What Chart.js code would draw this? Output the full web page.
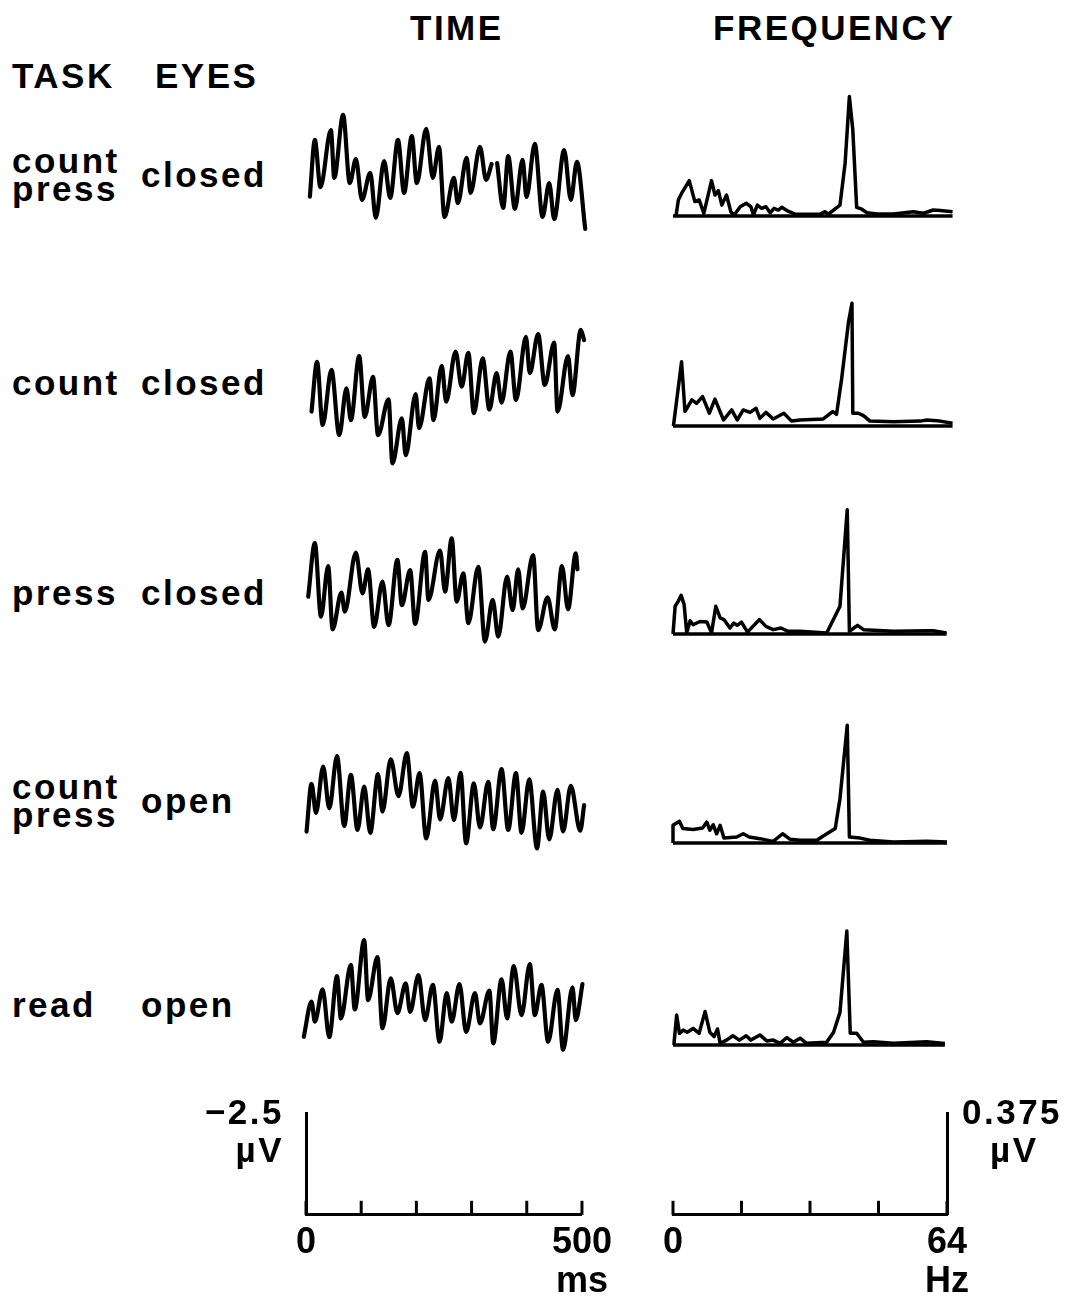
<!DOCTYPE html>
<html>
<head>
<meta charset="utf-8">
<script src="https://cdn.jsdelivr.net/npm/chart.js@4/dist/chart.umd.min.js"></script>
<style>
body{margin:0;background:#fff;width:1078px;height:1304px;position:relative;overflow:hidden;
  font-family:"Liberation Sans",Arial,sans-serif;color:#000}
.t{position:absolute;font-size:35px;line-height:35px;font-weight:bold;letter-spacing:2.5px;white-space:nowrap}
canvas{position:absolute}
</style>
</head>
<body>
<script>
// labels
const tasks = [['count', 'press'], ['count'], ['press'], ['count', 'press'], ['read']]
const eyes = ['closed', 'closed', 'closed', 'open', 'open']

// time traces: [ms, µV]  (negative is drawn up)
const waveCountPressClosed = [[7,0.48],[16,-0.91],[26,0.25],[45,-1.15],[51,0.02],[67,-1.52],[79,0.15],[90,-0.44],[101,0.56],[116,-0.10],[126,1.00],[141,-0.39],[152,0.51],[166,-0.91],[177,0.39],[191,-1.00],[200,0.15],[217,-1.18],[229,0.02],[240,-0.74],[250,0.98],[267,0.02],[274,0.64],[290,-0.47],[297,0.39],[314,-0.74],[325,0.07],[335,-0.32],[340,null],[345,-0.34],[356,0.76],[365,-0.51],[377,0.78],[391,-0.42],[398,0.49],[413,-0.81],[427,0.98],[439,0.15],[448,1.03],[466,-0.66],[478,0.56],[489,-0.37],[504,1.27]]
const waveCountClosed = [[10,0.65],[20,-0.57],[30,0.98],[46,-0.37],[60,1.23],[73,0.08],[81,0.86],[96,-0.71],[106,0.78],[121,-0.20],[130,1.23],[149,0.35],[156,1.92],[173,0.82],[180,1.72],[198,0.22],[204,1.06],[223,-0.16],[230,0.86],[245,-0.47],[253,0.41],[270,-0.82],[281,0.04],[293,-0.79],[303,0.69],[319,-0.65],[331,0.60],[344,-0.29],[353,0.43],[369,-0.82],[379,0.37],[397,-1.18],[404,-0.29],[419,-1.25],[431,0.00],[448,-1.04],[454,0.65],[473,-0.71],[481,0.25],[496,-1.35],[502,-1.10]]
const wavePressClosed = [[4,0.04],[16,-1.27],[27,0.53],[40,-0.71],[48,0.84],[64,-0.06],[70,0.41],[90,-1.04],[102,-0.04],[112,-0.63],[123,0.78],[138,-0.33],[149,0.74],[165,-0.86],[173,0.25],[188,-0.61],[197,0.71],[215,-1.06],[221,0.12],[242,-1.09],[251,-0.08],[263,-1.39],[272,0.16],[284,-0.53],[293,0.69],[311,-0.69],[323,1.14],[337,0.12],[347,1.02],[363,-0.45],[373,0.37],[383,-0.63],[391,0.33],[410,-0.98],[419,0.86],[436,0.06],[449,0.84],[462,-0.71],[473,0.35],[487,-1.02],[490,-0.63]]
const waveCountPressOpen = [[1,0.70],[10,-0.47],[18,0.24],[31,-0.89],[42,0.13],[56,-1.15],[69,0.56],[81,-0.69],[93,0.66],[105,-0.40],[116,0.73],[130,-0.71],[138,0.21],[153,-1.07],[167,-0.17],[182,-1.22],[193,0.09],[205,-0.73],[217,0.87],[233,-0.55],[242,0.40],[257,-0.61],[267,0.42],[279,-0.74],[289,0.99],[303,-0.48],[314,0.60],[329,-0.52],[338,0.64],[353,-0.83],[365,0.66],[379,-0.73],[389,0.73],[403,-0.58],[417,1.11],[428,-0.28],[439,0.89],[454,-0.32],[464,0.70],[478,-0.42],[495,0.68],[502,0.05]]
const waveReadOpen = [[-4,0.73],[10,-0.13],[16,0.36],[30,-0.43],[42,0.74],[56,-0.76],[63,0.28],[81,-1.03],[88,0.06],[105,-1.64],[112,-0.17],[129,-1.22],[138,0.52],[153,-0.70],[165,0.15],[180,-0.58],[188,0.12],[203,-0.78],[215,0.32],[229,-0.54],[241,0.85],[254,-0.34],[263,0.36],[277,-0.56],[289,0.61],[305,-0.34],[314,0.40],[331,-0.40],[338,0.89],[353,-0.68],[363,0.28],[375,-1.00],[389,0.20],[404,-1.05],[413,0.20],[425,-0.54],[437,0.85],[454,-0.42],[464,1.05],[481,-0.48],[487,0.32],[499,-0.56]]

// spectra: [Hz, µV]
const specCountPressClosed = [[0.7,0],[1.25,0.059],[2.0,0.083],[3.8,0.130],[5.1,0.053],[6.1,0.059],[7.2,0.010],[9.0,0.130],[9.8,0.077],[10.6,0.093],[11.4,0.040],[12.5,0.077],[13.5,0.016],[14.3,0.004],[15.7,0.034],[17.1,0.047],[18.2,0.034],[18.8,0.004],[19.7,0.040],[20.7,0.028],[21.7,0.034],[22.7,0.012],[23.6,0.028],[24.6,0.022],[25.4,0.032],[26.6,0.020],[28.5,0.007],[34.3,0.006],[35.5,0.016],[36.3,0.007],[37.5,0.022],[39.0,0.040],[40.2,0.194],[41.2,0.439],[42.0,0.316],[42.9,0.032],[44.1,0.025],[45.3,0.012],[47.6,0.007],[51.5,0.007],[56.1,0.016],[58.5,0.010],[60.8,0.022],[62.4,0.020],[65.3,0.016]]
const specCountClosed = [[0.1,0],[2.0,0.236],[2.8,0.053],[4.4,0.096],[5.5,0.083],[6.9,0.108],[8.5,0.047],[9.8,0.099],[11.8,0.022],[13.7,0.059],[15.0,0.022],[16.4,0.059],[18.0,0.050],[19.4,0.065],[20.3,0.028],[21.7,0.050],[23.4,0.026],[25.9,0.047],[27.7,0.018],[29.7,0.022],[35.1,0.026],[37.3,0.053],[38.2,0.043],[39.4,0.175],[41.0,0.383],[41.8,0.451],[42.0,0.047],[43.3,0.047],[44.5,0.038],[46.0,0.018],[51.5,0.016],[57.7,0.018],[59.3,0.022],[62.4,0.018],[65.3,0.010]]
const specPressClosed = [[0,0],[0.5,0.102],[1.2,0.120],[1.9,0.142],[2.6,0.108],[3.2,0.004],[4.0,0.049],[4.7,0.034],[6.3,0.046],[7.9,0.044],[9.0,0.004],[10.0,0.102],[11.0,0.059],[11.9,0.053],[13.3,0.022],[14.2,0.040],[15.0,0.032],[16.0,0.044],[17.4,0.007],[20.2,0.053],[21.7,0.028],[23.4,0.016],[25.2,0.022],[26.9,0.010],[29.7,0.010],[35.9,0.004],[39.0,0.102],[40.7,0.457],[41.2,0.010],[43.1,0.032],[44.5,0.016],[51.5,0.010],[59.3,0.012],[60.8,0.012],[63.9,0.004]]
const specCountPressOpen = [[0,0],[0,0.065],[1.5,0.080],[2.3,0.053],[4.7,0.050],[6.9,0.055],[7.9,0.077],[8.6,0.047],[9.4,0.067],[10.2,0.034],[11.0,0.065],[11.9,0.018],[14.9,0.022],[16.4,0.034],[17.8,0.022],[20.3,0.016],[23.4,0.006],[25.6,0.034],[27.3,0.014],[29.7,0.010],[33.6,0.010],[35.1,0.026],[37.9,0.053],[39.0,0.163],[40.7,0.433],[41.2,0.022],[43.7,0.018],[46.0,0.010],[51.5,0.004],[59.3,0.006],[64.0,0.004]]
const specReadOpen = [[0.2,0],[0.85,0.110],[1.5,0.043],[2.4,0.055],[3.3,0.047],[4.7,0.061],[6.1,0.043],[7.5,0.123],[8.6,0.047],[9.6,0.031],[10.4,0.059],[11.0,0.006],[12.5,0.018],[14.0,0.034],[15.5,0.018],[17.1,0.034],[18.2,0.018],[20.3,0.037],[21.9,0.015],[23.4,0.018],[25.0,0.006],[26.6,0.027],[28.1,0.010],[29.7,0.025],[31.2,0.006],[35.9,0.010],[37.5,0.047],[39.0,0.120],[40.6,0.419],[41.4,0.043],[42.9,0.043],[44.5,0.010],[46.8,0.012],[51.5,0.006],[59.3,0.012],[63.5,0.006]]

const waves = [waveCountPressClosed, waveCountClosed, wavePressClosed, waveCountPressOpen, waveReadOpen]
const spectra = [specCountPressClosed, specCountClosed, specPressClosed, specCountPressOpen, specReadOpen]

// scale bars
const timeTicks = [0, 100, 200, 300, 400, 500]
const timeTickText = ['0', '', '', '', '', ['500', 'ms']]
const freqTicks = [0, 16, 32, 48, 64]
const freqTickText = ['0', '', '', '', ['64', 'Hz']]

// ---- layout ----
const rowMid = [177, 385, 595, 803, 1007]
const specBase = [216, 426, 634, 843, 1045]
const ink = '#000'

function text(str, left, baseline, right) {
  const d = document.createElement('div')
  d.className = 't'
  d.textContent = str
  d.style.top = (baseline - 30) + 'px'
  if (right) d.style.right = (1078 - left) + 'px'
  else d.style.left = left + 'px'
  document.body.appendChild(d)
}

function canvas(left, top, w, h) {
  const c = document.createElement('canvas')
  c.width = w; c.height = h
  c.style.left = left + 'px'; c.style.top = top + 'px'
  document.body.appendChild(c)
  return c
}

const base = {
  responsive: false, animation: false, events: [],
  plugins: { legend: { display: false }, tooltip: { enabled: false } }
}

text('TIME', 410, 40)
text('FREQUENCY', 713, 40)
text('TASK', 12, 88)
text('EYES', 155, 88)

tasks.forEach((t, i) => {
  if (t.length == 2) {
    text(t[0], 12, rowMid[i] - 4)
    text(t[1], 12, rowMid[i] + 24)
  } else {
    text(t[0], 12, rowMid[i] + 10)
  }
  text(eyes[i], 141, rowMid[i] + 10)
})

waves.forEach((w, i) => {
  new Chart(canvas(290, rowMid[i] - 100, 310, 200), {
    type: 'line',
    data: { datasets: [{
      data: w.map(p => ({ x: p[0], y: p[1] })),
      borderColor: ink, borderWidth: 4.2, pointRadius: 0, borderCapStyle: 'round',
      cubicInterpolationMode: 'monotone', spanGaps: false, clip: false
    }] },
    options: { ...base,
      layout: { padding: { left: 16, right: 17, top: 0, bottom: 0 } },
      scales: {
        x: { type: 'linear', display: false, min: 0, max: 500 },
        y: { display: false, min: -2.45, max: 2.45, reverse: true }
      }
    }
  })
})

spectra.forEach((s, i) => {
  const last = s[s.length - 1][0]
  new Chart(canvas(663, specBase[i] - 150, 300, 170), {
    type: 'line',
    data: { datasets: [
      { data: s.map(p => ({ x: p[0], y: p[1] })), borderColor: ink, borderWidth: 3.5,
        pointRadius: 0, tension: 0, clip: false, borderJoinStyle: 'round' },
      { data: [{ x: 0, y: 0 }, { x: last, y: 0 }], borderColor: ink, borderWidth: 3.5,
        pointRadius: 0, clip: false }
    ] },
    options: { ...base,
      layout: { padding: { left: 10, right: 16, top: 0, bottom: 20 } },
      scales: {
        x: { type: 'linear', display: false, min: 0, max: 64 },
        y: { display: false, min: 0, max: 150 / 272 }
      }
    }
  })
})

// short upward tick marks on the scale bars
const upTicks = {
  id: 'upTicks',
  afterDraw(chart) {
    const x = chart.scales.x, ctx = chart.ctx, b = chart.chartArea.bottom
    ctx.save()
    ctx.strokeStyle = ink
    ctx.lineWidth = 3
    x.ticks.forEach(t => {
      const px = x.getPixelForValue(t.value)
      ctx.beginPath(); ctx.moveTo(px, b); ctx.lineTo(px, b - 14); ctx.stroke()
    })
    ctx.restore()
  }
}

function scaleChart(c, xMin, xMax, ticks, tickText, yMax, yPos, pad) {
  return new Chart(c, {
    type: 'line',
    data: { datasets: [] },
    plugins: [upTicks],
    options: { ...base,
      layout: { padding: pad },
      scales: {
        x: {
          type: 'linear', min: xMin, max: xMax,
          afterBuildTicks: s => { s.ticks = ticks.map(v => ({ value: v })) },
          grid: { display: false, drawTicks: false },
          border: { display: true, color: ink, width: 3 },
          ticks: {
            color: ink, padding: 8, maxRotation: 0, autoSkip: false,
            font: { family: '"Liberation Sans", Arial, sans-serif', size: 36, weight: 'bold', lineHeight: 1.1 },
            callback: (v) => tickText[ticks.indexOf(v)]
          }
        },
        y: {
          position: yPos, min: 0, max: yMax,
          grid: { display: false, drawTicks: false },
          border: { display: true, color: ink, width: 3 },
          ticks: { display: false }
        }
      }
    }
  })
}

scaleChart(canvas(200, 1090, 420, 220), 0, 500, timeTicks, timeTickText, 2.5, 'left',
  { left: 106, right: 37, top: 23, bottom: 0 })
scaleChart(canvas(640, 1090, 438, 220), 0, 64, freqTicks, freqTickText, 0.375, 'right',
  { left: 33, right: 131, top: 23, bottom: 0 })

text('\u22122.5', 284, 1124, true)
text('\u00b5V', 284, 1162, true)
text('0.375', 962, 1124)
text('\u00b5V', 990, 1162)
</script>
</body>
</html>
